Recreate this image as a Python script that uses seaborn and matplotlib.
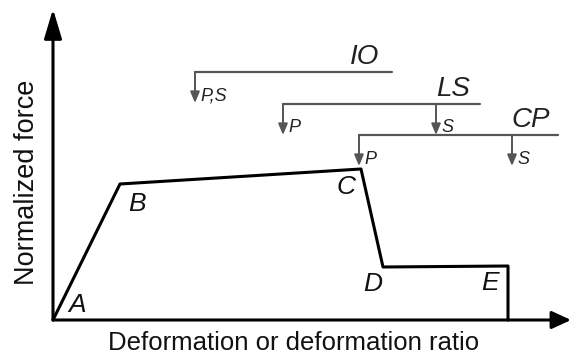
import matplotlib
matplotlib.use("Agg")
import matplotlib.pyplot as plt
import seaborn as sns
import pandas as pd

# generalized force-deformation curve (arbitrary units)
points = ["A", "B", "C", "D", "E", ""]
deformation = [0, 67, 308, 330, 455, 455]
force = [0, 136, 151, 53, 54, 0]

# performance levels: name, bracket start / end, height, arrow positions and labels
levels = ["IO", "LS", "CP"]
level_start = [142, 230, 306]
level_end = [339, 427, 505]
level_height = [248, 216, 185]
arrow_x = [[142], [230, 383], [306, 459]]
arrow_labels = [["P,S"], ["P", "S"], ["P", "S"]]

sns.set_theme(style="white")
plt.rcParams["font.family"] = ["Liberation Sans", "DejaVu Sans"]

fig = plt.figure(figsize=(5.71, 3.56), dpi=100)
ax = fig.add_axes([0, 0, 1, 1])
ax.set_xlim(-53, 518)
ax.set_ylim(-36, 320)
ax.axis("off")

df = pd.DataFrame({"deformation": deformation, "force": force})
sns.lineplot(data=df, x="deformation", y="force", sort=False, estimator=None,
             color="black", linewidth=2.2, ax=ax, legend=False)

# axes with arrows
ax.annotate("", xy=(518, 0), xytext=(0, 0),
            arrowprops=dict(arrowstyle="-|>,head_length=0.65,head_width=0.3",
                            color="black", lw=2.2,
                            mutation_scale=18, shrinkA=0, shrinkB=0))
ax.annotate("", xy=(0, 311), xytext=(0, 0),
            arrowprops=dict(arrowstyle="-|>,head_length=1.0,head_width=0.3",
                            color="black", lw=2.2,
                            mutation_scale=18, shrinkA=0, shrinkB=0))

# point labels
offsets = {"A": (24, 15), "B": (17, -20), "C": (-15, -18), "D": (-10, -17), "E": (-18, -17)}
for p, x, y in zip(points, deformation, force):
    if p:
        dx, dy = offsets[p]
        ax.text(x + dx, y + dy, p, fontsize=19, fontstyle="italic",
                ha="center", va="center", color="#111111")

# performance level brackets
gray = "#555555"
for name, x0, x1, h, ax_list, lab_list in zip(levels, level_start, level_end,
                                               level_height, arrow_x, arrow_labels):
    ax.plot([x0, x1], [h, h], color=gray, lw=1.6)
    ax.text(x1 - 27, h + 15, name, fontsize=20, fontstyle="italic",
            ha="center", va="center", color="#222222")
    for xa, la in zip(ax_list, lab_list):
        ax.annotate("", xy=(xa, h - 31), xytext=(xa, h),
                    arrowprops=dict(arrowstyle="-|>,head_length=0.6,head_width=0.25",
                                    color=gray, lw=1.4,
                                    mutation_scale=11, shrinkA=0, shrinkB=0))
        ax.text(xa + 5, h - 24, la, fontsize=13, fontstyle="italic",
                ha="left", va="center", color="#222222")

# axis titles
ax.text(-26, 138, "Normalized force", rotation=90, fontsize=19.5,
        ha="center", va="center", color="#111111")
ax.text(241, -23, "Deformation or deformation ratio", fontsize=18.5,
        ha="center", va="center", color="#111111")

fig.savefig("out.png", dpi=100)
